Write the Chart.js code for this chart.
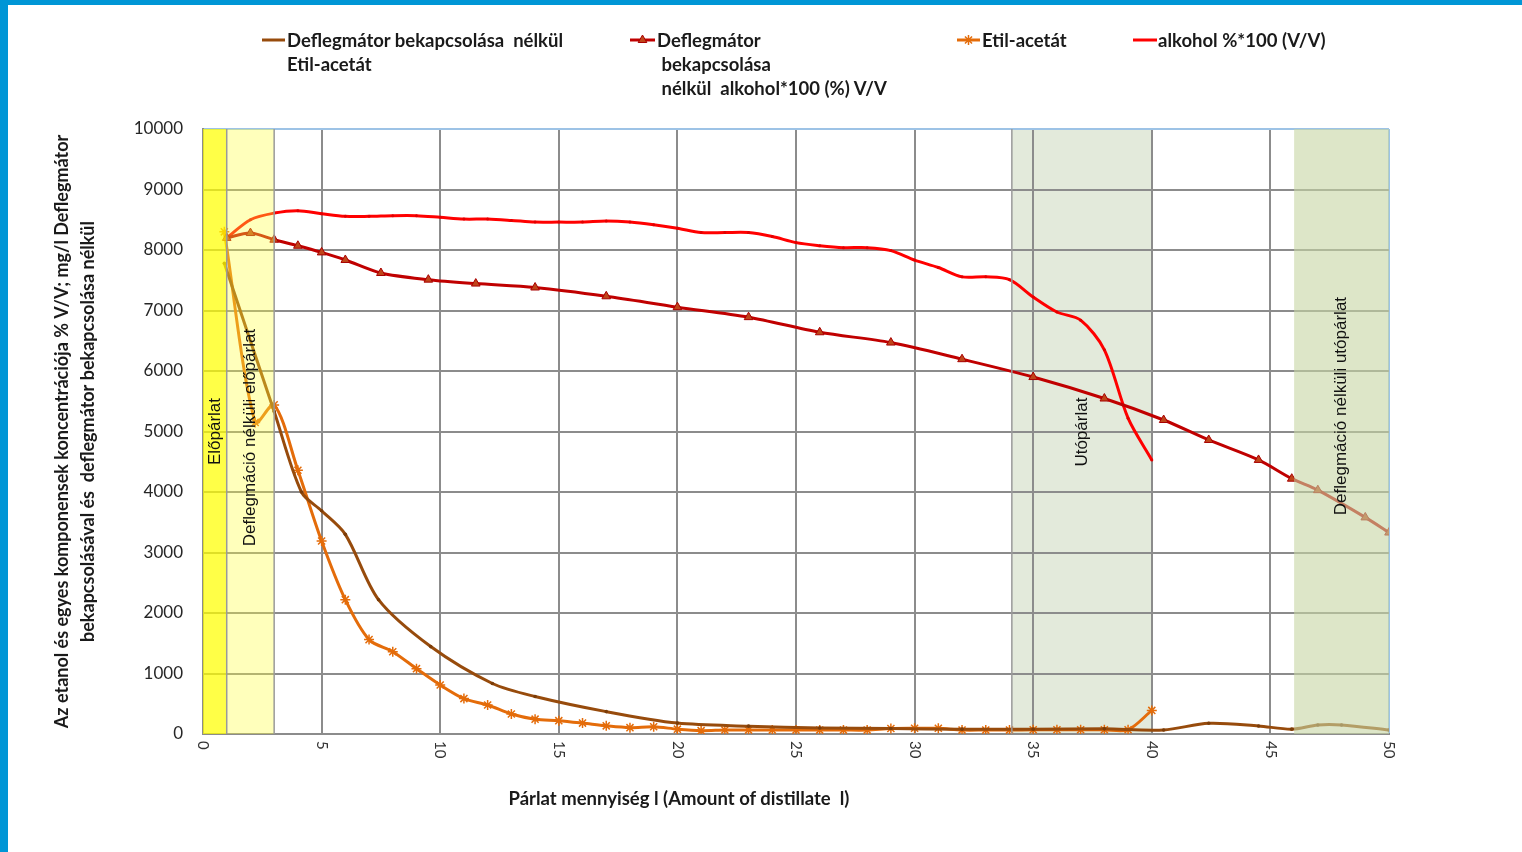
<!DOCTYPE html>
<html>
<head>
<meta charset="utf-8">
<script src="https://cdn.jsdelivr.net/npm/chart.js@4.4.1/dist/chart.umd.min.js"></script>
<style>
  html, body { margin: 0; padding: 0; background: #fff; }
  #wrap { position: relative; width: 1522px; height: 852px; overflow: hidden; font-family: Lato, "Liberation Sans", sans-serif; }
  #chart { position: absolute; left: 0; top: 0; }
  .bar { position: absolute; background: #0096d6; }
  .lg { position: absolute; font-weight: bold; font-size: 18.5px; color: #1a1a1a; line-height: 24px; white-space: pre; }
  #xtitle { position: absolute; left: 0; width: 1358px; top: 786px; text-align: center; font-weight: bold; font-size: 18.5px; color: #1a1a1a; line-height: 24px; white-space: pre; }
</style>
</head>
<body>
<div id="wrap">
  <canvas id="chart" width="1522" height="852"></canvas>
  <div class="bar" style="left:0;top:0;width:1522px;height:5px"></div>
  <div class="bar" style="left:0;top:0;width:8px;height:852px"></div>
  <div class="lg" style="left:287px;top:28px">Deflegmátor bekapcsolása  nélkül
Etil-acetát</div>
  <div class="lg" style="left:657px;top:28px">Deflegmátor
 bekapcsolása
 nélkül  alkohol*100 (%) V/V</div>
  <div class="lg" style="left:982px;top:28px">Etil-acetát</div>
  <div class="lg" style="left:1158px;top:28px">alkohol %*100 (V/V)</div>
  <div id="xtitle">Párlat mennyiség l (Amount of distillate  l)</div>
</div>
<script>
// --- data ---
const xTickLabels = [0, 5, 10, 15, 20, 25, 30, 35, 40, 45, 50];
const yTickLabels = [0, 1000, 2000, 3000, 4000, 5000, 6000, 7000, 8000, 9000, 10000];

// Deflegmátor bekapcsolása nélkül Etil-acetát (brown)
const brownX = [0.9, 3, 4.15, 5, 6, 7.4, 9.6, 12.2, 14, 17, 20, 23, 26, 29, 32, 35, 38, 40.5, 42.4, 44.5, 45.9, 47, 48, 50];
const brownY = [7780, 5330, 4000, 3690, 3300, 2220, 1445, 835, 620, 370, 180, 130, 100, 90, 80, 80, 85, 67, 178, 133, 80, 150, 150, 67];

// Deflegmátor bekapcsolása nélkül alkohol*100 (dark red, triangles)
const darkRedX = [1, 2, 3, 4, 5, 6, 7.5, 9.5, 11.5, 14, 17, 20, 23, 26, 29, 32, 35, 38, 40.5, 42.4, 44.5, 45.9, 47, 49, 50];
const darkRedY = [8200, 8280, 8170, 8070, 7960, 7835, 7620, 7510, 7445, 7380, 7235, 7055, 6890, 6640, 6470, 6195, 5900, 5545, 5190, 4860, 4530, 4220, 4030, 3580, 3330];

// Etil-acetát (orange, stars)
const orangeX = [0.9, 2.2, 3, 4, 5, 6, 7, 8, 9, 10, 11, 12, 13, 14, 15, 16, 17, 18, 19, 20, 21, 22, 23, 24, 25, 26, 27, 28, 29, 30, 31, 32, 33, 34, 35, 36, 37, 38, 39, 40];
const orangeY = [8300, 5150, 5440, 4360, 3190, 2220, 1560, 1360, 1080, 810, 585, 480, 330, 245, 220, 180, 135, 105, 120, 80, 55, 65, 65, 65, 65, 65, 65, 65, 90, 95, 95, 65, 65, 65, 70, 70, 70, 70, 70, 390];

// alkohol %*100 (V/V) (red)
const redX = [1, 2, 3, 4, 5, 6, 7, 8, 9, 10, 11, 12, 13, 14, 15, 16, 17, 18, 19, 20, 21, 22, 23, 24, 25, 26, 27, 28, 29, 30, 31, 32, 33, 34, 35, 36, 37, 38, 39, 40];
const redY = [8200, 8500, 8610, 8650, 8600, 8556, 8556, 8567, 8567, 8540, 8511, 8511, 8489, 8461, 8461, 8461, 8478, 8461, 8417, 8360, 8289, 8289, 8289, 8222, 8122, 8072, 8039, 8039, 7990, 7833, 7711, 7556, 7556, 7510, 7222, 6975, 6840, 6350, 5220, 4530];

// shaded regions (x from, x to) and their captions
const bandFrom = [0, 1, 34.1, 46];
const bandTo = [1, 3, 40, 50];
const bandLabels = ['Előpárlat', 'Deflegmáció nélküli előpárlat', 'Utópárlat', 'Deflegmáció nélküli utópárlat'];

function pts(xs, ys) {
    return xs.map((x, i) => ({ x: x, y: ys[i] }));
}

const GRID = '#8c8c8c';
const EDGE = '#9dc3e6';

// band fills: index 2 sits under the grid, the others are see-through overlays
const bandFill = ['rgba(255,255,0,0.72)', 'rgba(255,255,60,0.35)', '#e3eadb', 'rgba(198,213,163,0.6)'];
const bandLabelY = [5000, 4900, 4990, 5420];

function bandRect(chart, i) {
    const xs = chart.scales.x, a = chart.chartArea;
    const x1 = xs.getPixelForValue(bandFrom[i]);
    const x2 = xs.getPixelForValue(bandTo[i]);
    return { x: x1, y: a.top, w: x2 - x1, h: a.bottom - a.top };
}

const bandsPlugin = {
    id: 'bands',
    beforeDraw(chart) {
        const ctx = chart.ctx;
        const r = bandRect(chart, 2);
        ctx.save();
        ctx.fillStyle = bandFill[2];
        ctx.fillRect(r.x, r.y, r.w, r.h);
        ctx.restore();
    },
    afterDatasetsDraw(chart) {
        const ctx = chart.ctx;
        const ys = chart.scales.y;
        ctx.save();
        [0, 1, 3].forEach(i => {
            const r = bandRect(chart, i);
            ctx.fillStyle = bandFill[i];
            ctx.fillRect(r.x, r.y, r.w, r.h);
        });
        // band edges
        ctx.strokeStyle = '#9a9a9a';
        ctx.lineWidth = 1.5;
        [1, 3, 34.1].forEach(v => {
            const x = chart.scales.x.getPixelForValue(v);
            ctx.beginPath();
            ctx.moveTo(x, chart.chartArea.top);
            ctx.lineTo(x, chart.chartArea.bottom);
            ctx.stroke();
        });
        // captions
        ctx.fillStyle = '#111';
        ctx.font = '17px "Liberation Sans", Arial, sans-serif';
        ctx.textAlign = 'center';
        ctx.textBaseline = 'middle';
        bandLabels.forEach((t, i) => {
            const r = bandRect(chart, i);
            ctx.save();
            ctx.translate(r.x + r.w / 2, ys.getPixelForValue(bandLabelY[i]));
            ctx.rotate(-Math.PI / 2);
            ctx.fillText(t, 0, 0);
            ctx.restore();
        });
        ctx.restore();
    },
    afterDraw(chart) {
        const ctx = chart.ctx;
        const xs = chart.scales.x;
        ctx.save();
        // x tick labels, turned to read top to bottom
        ctx.fillStyle = '#333';
        ctx.font = '15px Lato, sans-serif';
        ctx.textAlign = 'left';
        ctx.textBaseline = 'middle';
        xTickLabels.forEach(v => {
            ctx.save();
            ctx.translate(xs.getPixelForValue(v), chart.chartArea.bottom + 7);
            ctx.rotate(Math.PI / 2);
            ctx.fillText(String(v), 0, 0);
            ctx.restore();
        });
        // legend keys
        const keys = [
            { x1: 262, x2: 285, ds: 0 },
            { x1: 630, x2: 655, ds: 1 },
            { x1: 957, x2: 980, ds: 2 },
            { x1: 1133, x2: 1157, ds: 3 }
        ];
        keys.forEach(k => {
            const d = chart.data.datasets[k.ds];
            ctx.strokeStyle = d.borderColor;
            ctx.lineWidth = 3;
            ctx.beginPath();
            ctx.moveTo(k.x1, 40);
            ctx.lineTo(k.x2, 40);
            ctx.stroke();
            if (d.pointStyle === 'triangle' || d.pointStyle === 'star') {
                ctx.fillStyle = d.pointBackgroundColor;
                ctx.strokeStyle = d.pointBorderColor;
                ctx.lineWidth = d.pointBorderWidth;
                Chart.helpers.drawPoint(ctx, { pointStyle: d.pointStyle, radius: d.pointRadius, borderWidth: d.pointBorderWidth, rotation: 0 }, (k.x1 + k.x2) / 2, 40);
            }
        });
        ctx.restore();
    }
};

const ctx = document.getElementById('chart').getContext('2d');
const chart = new Chart(ctx, {
    type: 'line',
    data: {
        datasets: [{
            label: 'Deflegmátor bekapcsolása  nélkül Etil-acetát',
            data: pts(brownX, brownY),
            borderColor: '#974b0c',
            borderWidth: 3,
            pointStyle: 'circle',
            pointRadius: 1.8,
            pointBackgroundColor: '#7a3c08',
            pointBorderColor: '#7a3c08',
            pointBorderWidth: 0,
            tension: 0.3
        }, {
            label: 'Deflegmátor bekapcsolása nélkül  alkohol*100 (%) V/V',
            data: pts(darkRedX, darkRedY),
            borderColor: '#c00000',
            borderWidth: 3,
            pointStyle: 'triangle',
            pointRadius: 5,
            pointBackgroundColor: '#c0451a',
            pointBorderColor: '#a80000',
            pointBorderWidth: 1,
            tension: 0.3
        }, {
            label: 'Etil-acetát',
            data: pts(orangeX, orangeY),
            borderColor: '#e46c0a',
            borderWidth: 3,
            pointStyle: 'star',
            pointRadius: 5,
            pointBackgroundColor: '#e46c0a',
            pointBorderColor: '#e46c0a',
            pointBorderWidth: 1.5,
            tension: 0.3
        }, {
            label: 'alkohol %*100 (V/V)',
            data: pts(redX, redY),
            borderColor: '#ff0000',
            borderWidth: 3,
            pointStyle: 'circle',
            pointRadius: 1.5,
            pointBackgroundColor: '#e00000',
            pointBorderColor: '#e00000',
            pointBorderWidth: 0,
            tension: 0.3
        }]
    },
    options: {
        responsive: false,
        animation: false,
        devicePixelRatio: 1,
        layout: { padding: { left: 0, top: 129, right: 133, bottom: 0 } },
        plugins: {
            legend: { display: false },
            tooltip: { enabled: false }
        },
        scales: {
            x: {
                type: 'linear',
                min: xTickLabels[0],
                max: xTickLabels[xTickLabels.length - 1],
                ticks: { stepSize: 5, display: false },
                grid: {
                    drawTicks: false,
                    lineWidth: 2,
                    color: c => (c.tick && c.tick.value === 50 ? EDGE : GRID)
                },
                border: { color: GRID, width: 2 },
                afterFit: s => { s.height = 118; }
            },
            y: {
                min: yTickLabels[0],
                max: yTickLabels[yTickLabels.length - 1],
                ticks: {
                    stepSize: 1000,
                    padding: 20,
                    color: '#262626',
                    font: { family: 'Lato', size: 17 },
                    callback: v => String(v)
                },
                grid: {
                    drawTicks: false,
                    lineWidth: 2,
                    color: c => (c.tick && c.tick.value === 10000 ? EDGE : GRID)
                },
                border: { color: GRID, width: 2 },
                title: {
                    display: true,
                    text: ['Az etanol és egyes komponensek koncentrációja % V/V; mg/l Deflegmátor',
                           'bekapcsolásával és  deflegmátor bekapcsolása nélkül'],
                    color: '#1a1a1a',
                    font: { family: 'Lato', size: 18, weight: 'bold', lineHeight: 1.44 },
                    padding: { top: 49, bottom: 0 }
                },
                afterFit: s => { s.width = 203; }
            }
        }
    },
    plugins: [bandsPlugin]
});
</script>
</body>
</html>
